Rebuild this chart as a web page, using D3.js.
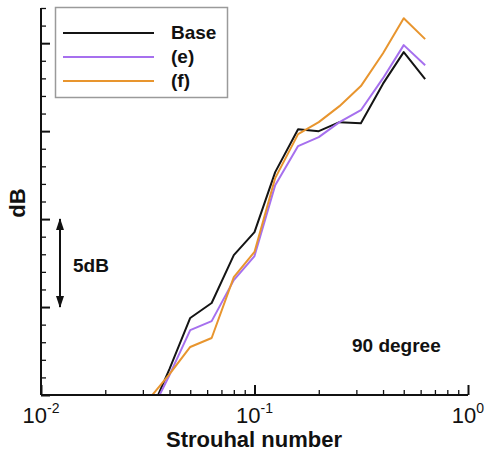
<!DOCTYPE html>
<html>
<head>
<meta charset="utf-8">
<script src="https://cdn.jsdelivr.net/npm/d3@7"></script>
<style>
  body { margin: 0; background: #fff; }
  text { font-family: "Liberation Sans", Arial, sans-serif; fill: #111; }
  .bold { font-weight: bold; }
</style>
</head>
<body>
<div id="chart"></div>
<script>
// one-third octave Strouhal bands
let strouhal = [0.0315, 0.04, 0.05, 0.063, 0.08, 0.1, 0.125, 0.16, 0.2, 0.25, 0.315, 0.4, 0.5, 0.63];

// relative levels in dB (bottom of axis = 0)
let baseDb = [-1.4, 1.48, 4.38, 5.23, 7.95, 9.26, 12.67, 15.11, 15.0, 15.51, 15.45, 17.7, 19.49, 17.95];
let eDb    = [-1.4, 1.14, 3.69, 4.20, 6.53, 7.90, 11.93, 14.15, 14.66, 15.51, 16.19, 18.01, 19.89, 18.75];
let fDb    = [-0.34, 1.19, 2.73, 3.24, 6.70, 8.13, 12.33, 14.83, 15.51, 16.42, 17.56, 19.43, 21.42, 20.23];

let seriesNames = ["Base", "(e)", "(f)"];
let seriesColors = ["#141414", "#a670ee", "#e8952e"];

let xMajor = [0.01, 0.1, 1];
let xExponents = ["-2", "-1", "0"];
let yMajor = [0, 5, 10, 15, 20];

let margin = {left: 41, right: 19, top: 8, bottom: 57};
let W = 487, H = 452;

let svg = d3.select("#chart").append("svg")
    .attr("width", W)
    .attr("height", H);

let x = d3.scaleLog()
    .domain([0.01, 1])
    .range([margin.left, W - margin.right]);

let y = d3.scaleLinear()
    .domain([0, 22])
    .range([H - margin.bottom, margin.top]);

// minor ticks
let xMinor = [];
[0.01, 0.1].forEach(d => {
    for (let k = 2; k <= 9; k++) xMinor.push(d * k);
});
let yMinor = d3.range(0, 23).filter(d => yMajor.indexOf(d) < 0);

// clip for the curves
svg.append("defs").append("clipPath")
    .attr("id", "clip")
    .append("rect")
    .attr("x", x.range()[0])
    .attr("y", y.range()[1])
    .attr("width", x.range()[1] - x.range()[0])
    .attr("height", y.range()[0] - y.range()[1]);

// curves
let line = d3.line()
    .x((d, i) => x(strouhal[i]))
    .y(d => y(d));

[baseDb, eDb, fDb].forEach((s, i) => {
    svg.append("path")
        .datum(s)
        .attr("clip-path", "url(#clip)")
        .attr("fill", "none")
        .attr("stroke", seriesColors[i])
        .attr("stroke-width", 2)
        .attr("stroke-linejoin", "round")
        .attr("d", line);
});

// x axis
let xAxisMajor = d3.axisBottom(x).tickValues(xMajor).tickSize(-10).tickFormat("");
let xAxisMinor = d3.axisBottom(x).tickValues(xMinor).tickSize(-5).tickFormat("");

svg.append("g")
    .attr("transform", "translate(0," + y(0) + ")")
    .call(xAxisMinor)
    .call(g => g.select(".domain").remove())
    .selectAll("line").attr("stroke", "#111").attr("stroke-width", 1.3);

svg.append("g")
    .attr("transform", "translate(0," + y(0) + ")")
    .call(xAxisMajor)
    .call(g => g.select(".domain").attr("stroke", "#111").attr("stroke-width", 2).attr("d", "M" + x.range()[0] + ",0H" + x.range()[1]))
    .selectAll("line").attr("stroke", "#111").attr("stroke-width", 2);

// y axis
let yAxisMajor = d3.axisLeft(y).tickValues(yMajor).tickSize(-9).tickFormat("");
let yAxisMinor = d3.axisLeft(y).tickValues(yMinor).tickSize(-5).tickFormat("");

svg.append("g")
    .attr("transform", "translate(" + x(0.01) + ",0)")
    .call(yAxisMinor)
    .call(g => g.select(".domain").remove())
    .selectAll("line").attr("stroke", "#111").attr("stroke-width", 1.3);

svg.append("g")
    .attr("transform", "translate(" + x(0.01) + ",0)")
    .call(yAxisMajor)
    .call(g => g.select(".domain").attr("stroke", "#111").attr("stroke-width", 2).attr("d", "M0," + y.range()[1] + "V" + y.range()[0]))
    .selectAll("line").attr("stroke", "#111").attr("stroke-width", 2);

// x tick labels 10^n
xMajor.forEach((d, i) => {
    let t = svg.append("text")
        .attr("x", x(d))
        .attr("y", y(0) + 28)
        .attr("text-anchor", "middle")
        .style("font-size", "22px");
    t.append("tspan").text("10");
    t.append("tspan")
        .attr("dy", -10)
        .style("font-size", "14px")
        .text(xExponents[i]);
});

// axis titles
svg.append("text")
    .attr("class", "bold")
    .attr("x", 254)
    .attr("y", 447)
    .attr("text-anchor", "middle")
    .style("font-size", "22px")
    .text("Strouhal number");

svg.append("text")
    .attr("class", "bold")
    .attr("transform", "translate(25,203) rotate(-90)")
    .attr("text-anchor", "middle")
    .style("font-size", "22px")
    .text("dB");

// 5dB scale arrow
let defs = svg.select("defs");
defs.append("marker")
    .attr("id", "arrow")
    .attr("viewBox", "0 0 12 8")
    .attr("refX", 11).attr("refY", 4)
    .attr("markerWidth", 6).attr("markerHeight", 4)
    .attr("orient", "auto-start-reverse")
    .append("path")
    .attr("d", "M0,0L12,4L0,8z")
    .attr("fill", "#111");

svg.append("line")
    .attr("x1", 60).attr("x2", 60)
    .attr("y1", y(10)).attr("y2", y(5))
    .attr("stroke", "#111")
    .attr("stroke-width", 2)
    .attr("marker-start", "url(#arrow)")
    .attr("marker-end", "url(#arrow)");

svg.append("text")
    .attr("class", "bold")
    .attr("x", 73)
    .attr("y", 272)
    .style("font-size", "19px")
    .text("5dB");

svg.append("text")
    .attr("class", "bold")
    .attr("x", 352)
    .attr("y", 352)
    .style("font-size", "19px")
    .text("90 degree");

// legend
let legend = svg.append("g");
legend.append("rect")
    .attr("x", 55.5).attr("y", 7.5)
    .attr("width", 172).attr("height", 90)
    .attr("fill", "#fff")
    .attr("stroke", "#9a9a9a")
    .attr("stroke-width", 1.5);

seriesNames.forEach((name, i) => {
    let ly = 33 + i * 24;
    legend.append("line")
        .attr("x1", 63).attr("x2", 154)
        .attr("y1", ly).attr("y2", ly)
        .attr("stroke", seriesColors[i])
        .attr("stroke-width", 2);
    legend.append("text")
        .attr("class", "bold")
        .attr("x", 171)
        .attr("y", ly + 6)
        .style("font-size", "19px")
        .text(name);
});
</script>
</body>
</html>
